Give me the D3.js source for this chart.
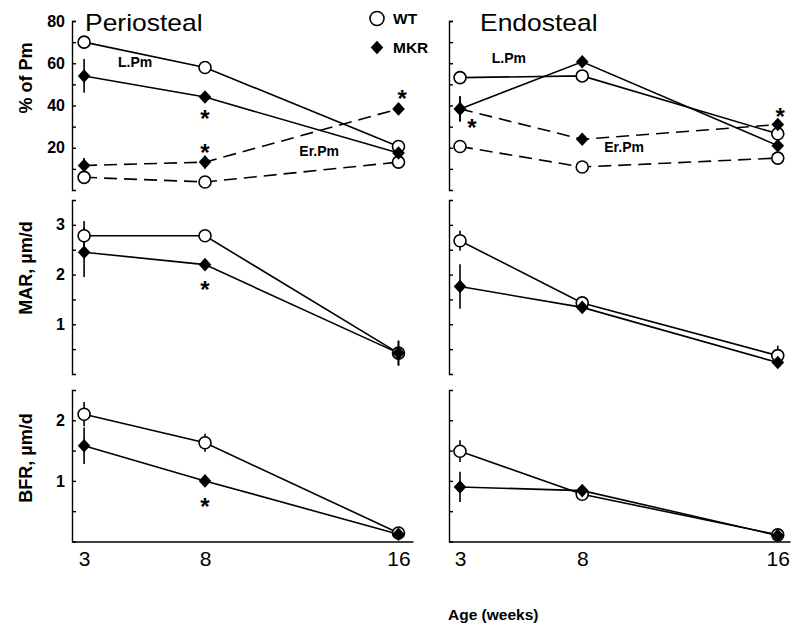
<!DOCTYPE html>
<html>
<head>
<meta charset="utf-8">
<script src="https://cdn.jsdelivr.net/npm/d3@7"></script>
<style>
  html, body { margin: 0; padding: 0; background: #fff; }
  svg { display: block; font-family: "Liberation Sans", Arial, Helvetica, sans-serif; }
</style>
</head>
<body>
<script>
// ---------- DATA ----------
const weeks = [3, 8, 16];
const xTickLabels = ["3", "8", "16"];

// % of perimeter (Pm): labeling perimeter (L.Pm) and eroded perimeter (Er.Pm)
const periWT_LPm   = [70, 58, 20.6];
const periWT_LPmE  = [1, 2, 2];
const periMKR_LPm  = [54, 44, 17.5];
const periMKR_LPmE = [8, 1, 1.5];
const periWT_ErPm   = [6, 3.8, 13.2];
const periWT_ErPmE  = [1, 1, 2.5];
const periMKR_ErPm  = [11.6, 13.2, 38.4];
const periMKR_ErPmE = [3.5, 3, 2.5];

const endoWT_LPm   = [53.2, 54, 26.6];
const endoWT_LPmE  = [3, 1.5, 1.5];
const endoMKR_LPm  = [38.4, 60.7, 21];
const endoMKR_LPmE = [6, 2, 1];
const endoWT_ErPm   = [20.6, 10.9, 15.1];
const endoWT_ErPmE  = [3, 1, 1];
const endoMKR_ErPm  = [38.4, 24, 31];
const endoMKR_ErPmE = [6, 1, 1];

// MAR, um/d
const periWT_MAR   = [2.78, 2.78, 0.42];
const periWT_MARE  = [0.3, 0.05, 0.25];
const periMKR_MAR  = [2.45, 2.2, 0.42];
const periMKR_MARE = [0.5, 0.1, 0.25];
const endoWT_MAR   = [2.68, 1.43, 0.37];
const endoWT_MARE  = [0.2, 0.1, 0.2];
const endoMKR_MAR  = [1.76, 1.34, 0.23];
const endoMKR_MARE = [0.45, 0.1, 0.1];

// BFR, um/d
const periWT_BFR   = [2.1, 1.63, 0.14];
const periWT_BFRE  = [0.2, 0.15, 0.03];
const periMKR_BFR  = [1.58, 1.0, 0.12];
const periMKR_BFRE = [0.3, 0.03, 0.03];
const endoWT_BFR   = [1.49, 0.78, 0.11];
const endoWT_BFRE  = [0.18, 0.03, 0.02];
const endoMKR_BFR  = [0.9, 0.84, 0.1];
const endoMKR_BFRE = [0.25, 0.03, 0.02];

// y ticks
const pmTicks = [10, 20, 30, 40, 50, 60, 70, 80];
const pmLabels = ["", "20", "", "40", "", "60", "", "80"];
const marTicks = [0.5, 1, 1.5, 2, 2.5, 3];
const marLabels = ["", "1", "", "2", "", "3"];
const bfrTicks = [0.5, 1, 1.5, 2];
const bfrLabels = ["", "1", "", "2"];

// significance marks (week, value)
const periPmStars = [[8, 36], [8, 20], [16.15, 45.4]];
const endoPmStars = [[3.49, 31.8], [16.1, 37]];
const periMarStars = [[8, 1.79]];
const periBfrStars = [[8, 0.65]];

// ---------- CHART ----------
const W = 800, H = 629;
const FONT = '"Liberation Sans", Arial, sans-serif';
const svg = d3.select("body").append("svg").attr("width", W).attr("height", H);
svg.append("rect").attr("width", W).attr("height", H).attr("fill", "#fff");

const xL = d3.scaleLinear().domain([2.5, 16.6]).range([72, 413]);
const xR = d3.scaleLinear().domain([2.55, 16.5]).range([449, 790]);
const yPm = d3.scaleLinear().domain([0, 80]).range([190, 21]);
const yMAR = d3.scaleLinear().domain([0, 3.5]).range([374, 200]);
const yBFR = d3.scaleLinear().domain([0, 2.5]).range([541.5, 390]);

function yAxis(x, y, ticks, labels, showLabels) {
  const g = svg.append("g").attr("transform", `translate(${x.range()[0]},0)`)
    .call(d3.axisLeft(y).tickValues(ticks)
      .tickFormat((d, i) => showLabels ? labels[i] : "")
      .tickSize(-4).tickSizeOuter(-4).tickPadding(7));
  g.selectAll("path,line").attr("stroke", "#000").attr("stroke-width", 1.4);
  g.selectAll("text").attr("font-size", 16).attr("font-weight", "bold")
    .attr("fill", "#000").attr("font-family", FONT);
}

yAxis(xL, yPm, pmTicks, pmLabels, true);
yAxis(xR, yPm, pmTicks, pmLabels, false);
yAxis(xL, yMAR, marTicks, marLabels, true);
yAxis(xR, yMAR, marTicks, marLabels, false);
yAxis(xL, yBFR, bfrTicks, bfrLabels, true);
yAxis(xR, yBFR, bfrTicks, bfrLabels, false);

[xL, xR].forEach(x => {
  const g = svg.append("g").attr("transform", `translate(0,${yBFR(0)})`)
    .call(d3.axisBottom(x).tickValues(weeks).tickFormat((d, i) => xTickLabels[i])
      .tickSize(0).tickSizeOuter(0).tickPadding(10));
  g.select("path").attr("stroke", "#000").attr("stroke-width", 1.6);
  g.selectAll("text").attr("font-size", 21).attr("fill", "#000").attr("font-family", FONT);
});

const lineGen = (x, y) => d3.line().x((d, i) => x(weeks[i])).y(d => y(d));

function series(x, y, vals, errs, type, dashed) {
  svg.append("path").datum(vals)
    .attr("d", lineGen(x, y))
    .attr("fill", "none").attr("stroke", "#000").attr("stroke-width", 1.6)
    .attr("stroke-dasharray", dashed ? "13,7" : null);
  return { x, y, vals, errs, type };
}

function errorBars(s) {
  svg.append("g").selectAll("line").data(s.vals).join("line")
    .attr("x1", (d, i) => s.x(weeks[i])).attr("x2", (d, i) => s.x(weeks[i]))
    .attr("y1", (d, i) => s.y(d - s.errs[i])).attr("y2", (d, i) => s.y(d + s.errs[i]))
    .attr("stroke", "#000").attr("stroke-width", 1.6);
}

const diamond = "M0,-6.8L6.3,0L0,6.8L-6.3,0Z";
function markers(s) {
  const g = svg.append("g");
  if (s.type === "wt") {
    g.selectAll("circle").data(s.vals).join("circle")
      .attr("cx", (d, i) => s.x(weeks[i])).attr("cy", d => s.y(d))
      .attr("r", 6).attr("fill", "#fff").attr("stroke", "#000").attr("stroke-width", 1.6);
  } else {
    g.selectAll("path").data(s.vals).join("path")
      .attr("transform", (d, i) => `translate(${s.x(weeks[i])},${s.y(d)})`)
      .attr("d", diamond).attr("fill", "#000");
  }
}

const all = [
  series(xL, yPm, periWT_LPm, periWT_LPmE, "wt", false),
  series(xL, yPm, periMKR_LPm, periMKR_LPmE, "mkr", false),
  series(xL, yPm, periWT_ErPm, periWT_ErPmE, "wt", true),
  series(xL, yPm, periMKR_ErPm, periMKR_ErPmE, "mkr", true),
  series(xR, yPm, endoWT_LPm, endoWT_LPmE, "wt", false),
  series(xR, yPm, endoMKR_LPm, endoMKR_LPmE, "mkr", false),
  series(xR, yPm, endoWT_ErPm, endoWT_ErPmE, "wt", true),
  series(xR, yPm, endoMKR_ErPm, endoMKR_ErPmE, "mkr", true),
  series(xL, yMAR, periWT_MAR, periWT_MARE, "wt", false),
  series(xL, yMAR, periMKR_MAR, periMKR_MARE, "mkr", false),
  series(xR, yMAR, endoWT_MAR, endoWT_MARE, "wt", false),
  series(xR, yMAR, endoMKR_MAR, endoMKR_MARE, "mkr", false),
  series(xL, yBFR, periWT_BFR, periWT_BFRE, "wt", false),
  series(xL, yBFR, periMKR_BFR, periMKR_BFRE, "mkr", false),
  series(xR, yBFR, endoWT_BFR, endoWT_BFRE, "wt", false),
  series(xR, yBFR, endoMKR_BFR, endoMKR_BFRE, "mkr", false)
];
all.forEach(errorBars);
all.filter(s => s.type === "wt").forEach(markers);
all.filter(s => s.type === "mkr").forEach(markers);

// asterisks
function stars(x, y, list) {
  svg.append("g").selectAll("text").data(list).join("text")
    .attr("x", d => x(d[0])).attr("y", d => y(d[1]) + 13)
    .attr("text-anchor", "middle").attr("font-size", 24).attr("font-weight", "bold")
    .text("*");
}
stars(xL, yPm, periPmStars);
stars(xR, yPm, endoPmStars);
stars(xL, yMAR, periMarStars);
stars(xL, yBFR, periBfrStars);

// text helper
function label(x, y, str, size, weight, anchor, sx) {
  svg.append("text")
    .attr("transform", `translate(${x},${y}) scale(${sx || 1},1)`)
    .attr("text-anchor", anchor || "start")
    .attr("font-size", size).attr("font-weight", weight || "normal")
    .attr("fill", "#000").text(str);
}

// panel titles
label(85, 31, "Periosteal", 23, "normal", "start", 1.15);
label(480, 31, "Endosteal", 23, "normal", "start", 1.15);

// in-panel series labels
label(xL(4.4), yPm(58.3), "L.Pm", 14, "bold");
label(xL(11.9), yPm(16.3), "Er.Pm", 14, "bold");
label(xR(4.3), yPm(60.3), "L.Pm", 14, "bold");
label(xR(8.9), yPm(17.8), "Er.Pm", 14, "bold");

// legend
svg.append("circle").attr("cx", 377).attr("cy", 18.5).attr("r", 7)
  .attr("fill", "#fff").attr("stroke", "#000").attr("stroke-width", 1.6);
svg.append("path").attr("transform", "translate(377,47.5)").attr("d", diamond).attr("fill", "#000");
label(393, 24, "WT", 15.5, "bold");
label(393, 53, "MKR", 15.5, "bold");

// y titles
function ytitle(cy, str) {
  svg.append("text").attr("transform", `translate(32,${cy}) rotate(-90)`)
    .attr("text-anchor", "middle").attr("font-size", 18).attr("font-weight", "bold")
    .text(str);
}
ytitle(78, "% of Pm");
ytitle(268, "MAR, \u00B5m/d");
ytitle(458, "BFR, \u00B5m/d");

// x title
label(448, 620, "Age (weeks)", 15.5, "bold");
</script>
</body>
</html>
